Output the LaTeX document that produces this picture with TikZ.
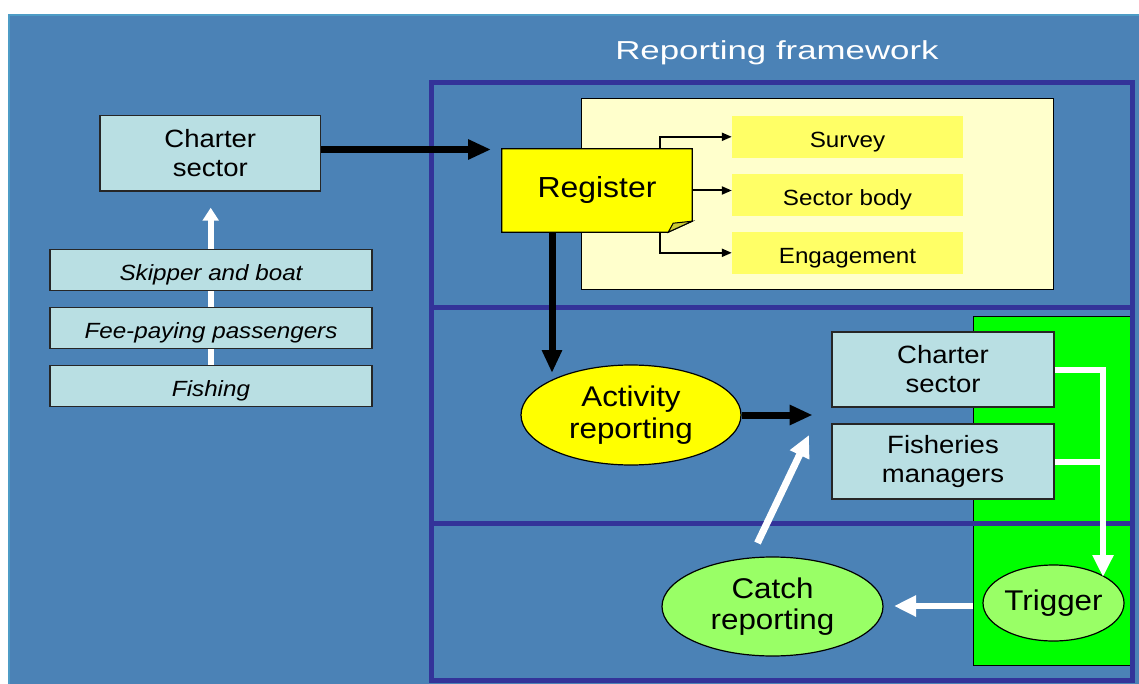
\documentclass[tikz,border=0pt]{standalone}
\usepackage{fontspec}
\setmainfont[FakeStretch=1.1]{Liberation Sans}
\newfontfamily\titlefont[FakeStretch=1.34]{Liberation Sans}
\usetikzlibrary{arrows.meta,shapes.geometric,calc}
\definecolor{bgblue}{HTML}{4B82B6}
\definecolor{bgedge}{HTML}{4D9CC6}
\definecolor{framec}{HTML}{333399}
\definecolor{cyanbox}{HTML}{B9DFE3}
\definecolor{creamc}{HTML}{FFFFCC}
\definecolor{ylbox}{HTML}{FFFF66}
\definecolor{regyel}{HTML}{FFFF00}
\definecolor{foldc}{HTML}{CCCC33}
\definecolor{brightgreen}{HTML}{00FF00}
\definecolor{lightgreen}{HTML}{99FF66}
\pgfdeclarelayer{bglayer}
\pgfdeclarelayer{backlayer}
\pgfsetlayers{bglayer,backlayer,main}
\tikzset{
  cyanrect/.style={draw=black!85, line width=1.2pt, fill=cyanbox, inner sep=0pt, align=center},
  stackbox/.style={cyanrect, minimum width=322pt, minimum height=41.7pt,
     font=\fontsize{22}{26}\selectfont\itshape, text height=20.5pt, text depth=0pt},
  ylrect/.style={fill=ylbox, inner sep=0pt, minimum width=231pt, minimum height=41.7pt,
     font=\fontsize{22}{26}\selectfont, text height=21.5pt, text depth=0pt},
  ovalnode/.style={ellipse, draw=black, line width=1.2pt, inner sep=0pt, align=center,
     font=\fontsize{28.5}{31.5}\selectfont},
  twoline/.style={font=\fontsize{25}{29}\selectfont},
  blackarrow/.style={draw=black, line width=7pt, -{Triangle[length=23pt,width=19pt]}},
  whitearrow/.style={draw=white, line width=6pt, -{Triangle[length=22pt,width=20pt]}},
  thinarrow/.style={draw=black, line width=2pt, -{Triangle[length=10pt,width=8pt]}},
}
\begin{document}
\begin{tikzpicture}[x=1pt,y=-1pt]
\useasboundingbox (0,0) rectangle (1139,684);
\begin{pgfonlayer}{bglayer}
\fill[white] (0,0) rectangle (1139,684);
\fill[bgblue] (8,14) rectangle (1139,684);
\draw[bgedge, line width=2.5pt] (9.2,684) -- (9.2,15.2) -- (1139,15.2);
\end{pgfonlayer}

% title
\node[anchor=base, text=white, font=\titlefont\fontsize{26}{30}\selectfont] (title) at (777,59.3) {Reporting framework};

% green panel, then frame
\node[draw=black, line width=1pt, fill=brightgreen, minimum width=158pt, minimum height=349pt, inner sep=0pt] (green) at (1052,490.5) {};
\draw[framec, line width=5pt] (431,83) rectangle (1132,680);
\draw[framec, line width=5pt] (431,307) -- (1132,307);
\draw[framec, line width=5pt] (431,523) -- (1132,523);

% left side
\node[cyanrect, twoline, minimum width=220.7pt, minimum height=75.3pt] (cs1) at (210.3,153.3) {Charter\\sector};
\node[stackbox] (skip) at (211,270) {Skipper and boat};
\node[stackbox] (fee) at (211,328) {Fee-paying passengers};
\node[stackbox] (fish) at (211,386) {Fishing};
\coordinate (lefttip) at (210.7,207.7);
\begin{pgfonlayer}{backlayer}
\draw[draw=white, line width=5.7pt, -{Triangle[length=13pt,width=15.7pt]}] (fish.center -| lefttip) -- (lefttip);
\end{pgfonlayer}

% register area
\node[draw=black, line width=1pt, fill=creamc, minimum width=472pt, minimum height=191pt, inner sep=0pt] (cream) at (817.6,194.5) {};
\node[ylrect] (sv) at (847.5,136.8) {Survey};
\node[ylrect] (sb) at (847.5,194.8) {Sector body};
\node[ylrect] (eng) at (847.5,252.8) {Engagement};

\node[minimum width=190pt, minimum height=83pt, inner sep=0pt] (reg) at (597,190.5) {};
\fill[regyel, draw=black, line width=1.2pt] (reg.north west) -- (reg.north east) -- ($(reg.south east)+(0,-11)$) -- ($(reg.south east)+(-24,0)$) -- (reg.south west) -- cycle;
\fill[foldc, draw=black, line width=1pt] ($(reg.south east)+(0,-11)$) -- ($(reg.south east)+(-24,0)$) -- ($(reg.south east)+(-19,-9)$) -- cycle;
\node[font=\fontsize{29}{33}\selectfont] (regtext) at (reg.center) {Register};

\coordinate (bx) at (659.7,0);
\draw[thinarrow] (reg.north -| bx) |- (sv.west);
\draw[thinarrow] (reg.east) -- (reg.east -| sb.west);
\draw[thinarrow] (reg.south -| bx) |- (eng.west);

\coordinate (regin) at (491,149.5);
\draw[blackarrow] (cs1.east |- regin) -- (regin);

% activity
\node[ovalnode, fill=regyel, minimum width=220pt, minimum height=100pt] (act) at (631,415) {Activity\\reporting};
\coordinate (acttip) at (552,373);
\draw[blackarrow] (reg.south -| acttip) -- (acttip);
\coordinate (acttip2) at (812.6,415);
\draw[blackarrow] (act.east) -- (acttip2);

% right boxes
\node[cyanrect, twoline, minimum width=222pt, minimum height=75pt] (cs2) at (943,369.5) {Charter\\sector};
\node[cyanrect, twoline, minimum width=222pt, minimum height=75pt] (fm) at (943,461.5) {Fisheries\\managers};

\node[ovalnode, fill=lightgreen, minimum width=141pt, minimum height=76pt] (trig) at (1053.5,603) {Trigger};
\node[ovalnode, fill=lightgreen, minimum width=221pt, minimum height=99pt] (catch) at (772.5,606.5) {Catch\\reporting};

\coordinate (trigtip) at (1103,577);
\draw[whitearrow] (cs2.east) -| (trigtip);
\draw[draw=white, line width=6pt] (fm.east) -- (fm.east -| trigtip);
\coordinate (catchtip) at (894,606);
\draw[whitearrow] (green.west |- catchtip) -- (catchtip);
\coordinate (diagstart) at (757.5,543);
\coordinate (diagtip) at (809,435);
\draw[whitearrow, line width=7pt] (diagstart) -- (diagtip);
\end{tikzpicture}
\end{document}
